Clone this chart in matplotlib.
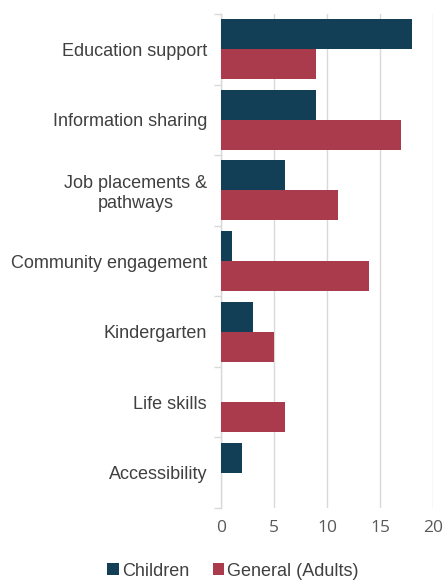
import matplotlib
matplotlib.use("Agg")
import matplotlib.pyplot as plt
import numpy as np

categories = ["Education support", "Information sharing", "Job placements &\npathways",
              "Community engagement", "Kindergarten", "Life skills", "Accessibility"]
children = [18, 9, 6, 1, 3, 0, 2]
adults = [9, 17, 11, 14, 5, 6, 0]
x_ticks = [0, 5, 10, 15, 20]

navy = "#133F56"
red = "#A93B4C"
grid_c = "#D9D9D9"
text_c = "#404040"

fig = plt.figure(figsize=(4.46, 5.8), dpi=100)
ax = fig.add_axes([221 / 446, 1 - 508 / 580, 212 / 446, 494 / 580])

y = np.arange(len(categories))
h = 0.425
ax.barh(y - h / 2, children, height=h, color=navy, label="Children", zorder=3)
ax.barh(y + h / 2, adults, height=h, color=red, label="General (Adults)", zorder=3)

ax.set_ylim(len(categories) - 0.5, -0.5)
ax.set_xlim(0, 20)
ax.set_xticks(x_ticks)
ax.set_xticklabels([str(t) for t in x_ticks], fontsize=12.5, color="#595959",
                   family=["Open Sans", "DejaVu Sans"])
ax.tick_params(axis="x", length=0, pad=9)

ax.set_yticks(y)
ax.set_yticklabels(categories, fontsize=13, color=text_c,
                   family=["Liberation Sans", "DejaVu Sans"], multialignment="center")
ax.set_yticks(np.arange(len(categories) + 1) - 0.5, minor=True)
ax.tick_params(axis="y", which="major", length=0, pad=10)
ax.tick_params(axis="y", which="minor", length=5, color=grid_c, width=1)

ax.xaxis.grid(True, color=grid_c, linewidth=1, zorder=0)
for s in ["top", "right", "bottom"]:
    ax.spines[s].set_visible(False)
ax.spines["left"].set_color(grid_c)
ax.spines["left"].set_linewidth(1)

fig.legend(loc="center", bbox_to_anchor=(233 / 446, 1 - 571 / 580), ncol=2, frameon=False,
           prop={"family": ["Liberation Sans", "DejaVu Sans"], "size": 13},
           labelcolor=text_c, handlelength=0.65, handleheight=0.65, handletextpad=0.15,
           columnspacing=1.3)

fig.savefig("out.png", dpi=100)
